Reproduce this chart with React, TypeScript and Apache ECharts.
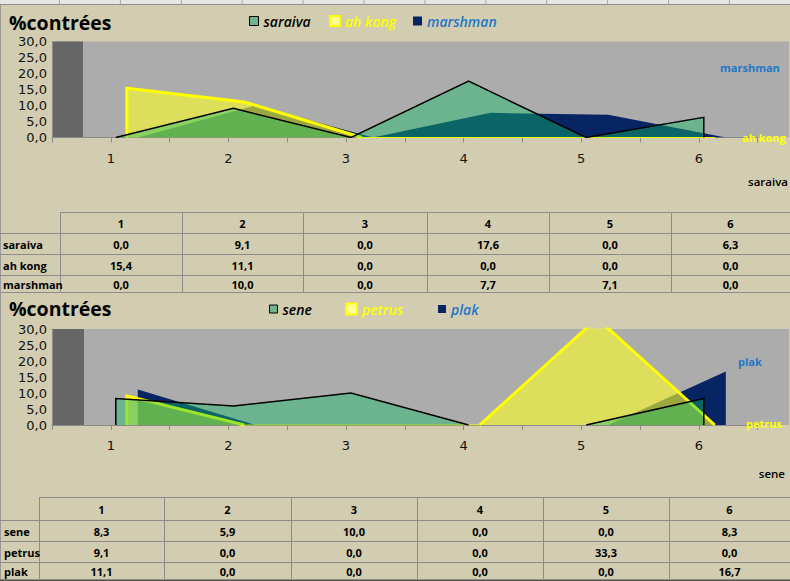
import React, { useEffect, useRef } from 'react';
import * as echarts from 'echarts';

// ---------- data ----------
const categories = [1, 2, 3, 4, 5, 6];
const chartTitle = '%contrées';

const chart1Names = ['saraiva', 'ah kong', 'marshman'];
const saraiva = [0.0, 9.1, 0.0, 17.6, 0.0, 6.3];
const ahKong = [15.4, 11.1, 0.0, 0.0, 0.0, 0.0];
const marshman = [0.0, 10.0, 0.0, 7.7, 7.1, 0.0];

const chart2Names = ['sene', 'petrus', 'plak'];
const sene = [8.3, 5.9, 10.0, 0.0, 0.0, 8.3];
const petrus = [9.1, 0.0, 0.0, 0.0, 33.3, 0.0];
const plak = [11.1, 0.0, 0.0, 0.0, 0.0, 16.7];

const yMin = 0;
const yMax = 30;
const yStep = 5;
const xMin = 0.5;
const xMax = 6.5;
const xStep = 0.5;

// ---------- styles / layout ----------
const BG = '#D2CDB0';
const PLOT_BG = '#ACACAC';
const WALL = '#666666';
const NAVY = '#072463';
const BLUE_TEXT = '#1F77C8';
const YELLOW = '#FFFF00';
const FONT = "'Open Sans', 'Noto Sans', sans-serif";
const AXIS_FONT = "'DejaVu Sans', sans-serif";

const X0 = 52;
const XW = 705.6;
const PH = 96;
const layerOffsets = [5, 16, 27]; // front, middle, back

const layerStyles = [
  { line: '#000000', lineWidth: 1.5, baseLine: 0, area: 'rgba(16,191,104,0.41)', legendItem: { color: '#6DB48F', borderColor: '#000000', borderWidth: 1 }, text: '#000000', depthSize: 11.5, depthWeight: 600 },
  { line: YELLOW, lineWidth: 3, baseLine: 1, area: 'rgba(255,255,40,0.6)', legendItem: { color: '#FFFF99', borderColor: YELLOW, borderWidth: 2 }, text: YELLOW, depthSize: 11, depthWeight: 'bold' },
  { line: NAVY, lineWidth: 0, baseLine: 0, area: NAVY, legendItem: { color: NAVY, borderColor: NAVY, borderWidth: 0 }, text: BLUE_TEXT, depthSize: 11, depthWeight: 'bold' },
];

const panels = [
  {
    names: chart1Names,
    values: [saraiva, ahKong, marshman],
    plotTop: 41.5,
    wallW: 31,
    titleY: 22,
    legendTop: 14,
    legendLefts: [249, 329, 413],
    iconSizes: [9, 10, 9],
    depthLabels: [{ x: 788, y: 181, align: 'right' }, { x: 742, y: 137, align: 'left' }, { x: 720, y: 67, align: 'left' }],
    table: { cols: [60, 182, 303, 427, 549, 671, 790], rows: [212, 233, 254, 275, 292], labelX: 3 },
  },
  {
    names: chart2Names,
    values: [sene, petrus, plak],
    plotTop: 329,
    wallW: 32,
    titleY: 308.5,
    legendTop: 302,
    legendLefts: [269, 345, 438],
    iconSizes: [8, 11, 8],
    depthLabels: [{ x: 785, y: 473, align: 'right' }, { x: 746, y: 423, align: 'left' }, { x: 738, y: 361, align: 'left' }],
    table: { cols: [39, 164, 291, 417, 543, 669, 790], rows: [497, 520, 541, 562, 580], labelX: 4 },
  },
];

const fmt = (v: number) => v.toFixed(1).replace('.', ',');

// closed outline of an area: baseline at the first category, the values, baseline at the last category
function polygonData(values: number[]) {
  const pts: any[] = [[categories[0], 0]];
  values.forEach((v, i) => pts.push([categories[i], v]));
  pts.push([categories[categories.length - 1], 0]);
  return pts;
}

// same outline, but with segments lying on the baseline left out
function outlineData(values: number[]) {
  const pts = polygonData(values);
  const out: any[] = [pts[0]];
  for (let j = 1; j < pts.length; j++) {
    if (pts[j - 1][1] === 0 && pts[j][1] === 0) out.push([pts[j][0], '-']);
    out.push(pts[j]);
  }
  return out;
}

function gLine(x1: number, y1: number, x2: number, y2: number, stroke: string, lw = 1, z = 1) {
  return { type: 'line', z, silent: true, shape: { x1, y1, x2, y2 }, style: { stroke, lineWidth: lw } };
}
function gRect(x: number, y: number, width: number, height: number, fill: string, z = -1) {
  return { type: 'rect', z, silent: true, shape: { x, y, width, height }, style: { fill } };
}
function gText(x: number, y: number, text: string, opts: any = {}) {
  const align = opts.align || 'left';
  return {
    type: 'text',
    z: opts.z ?? 50,
    silent: true,
    x,
    y,
    style: {
      text,
      fill: opts.fill || '#000',
      fontSize: opts.fontSize || 11,
      fontFamily: opts.fontFamily || FONT,
      fontWeight: opts.fontWeight || 'bold',
      fontStyle: opts.fontStyle || 'normal',
      textAlign: align,
      align,
      textVerticalAlign: 'middle',
      verticalAlign: 'middle',
    },
  };
}

function tableEls(cfg: any, names: string[], rows: number[][], last: boolean) {
  const els: any[] = [];
  const { cols, rows: ry, labelX } = cfg;
  const lc = '#8C8C8C';
  els.push(gLine(cols[0], ry[0] + 0.5, 790, ry[0] + 0.5, lc));
  for (let r = 1; r < ry.length; r++) {
    const isBottom = r === ry.length - 1;
    els.push(gLine(0, ry[r] + 0.5, 790, ry[r] + 0.5, isBottom && last ? '#505050' : lc, isBottom && last ? 2 : 1));
  }
  for (let c = 0; c < cols.length - 1; c++) {
    els.push(gLine(cols[c] + 0.5, ry[0], cols[c] + 0.5, ry[ry.length - 1], lc));
  }
  categories.forEach((cat, i) => {
    els.push(gText((cols[i] + cols[i + 1]) / 2, (ry[0] + ry[1]) / 2 + 0.5, String(cat), { align: 'center', fontSize: 11 }));
  });
  names.forEach((n, r) => {
    const cy = (ry[r + 1] + ry[r + 2]) / 2 + 0.5;
    els.push(gText(labelX, cy, n, { fontSize: 11 }));
    rows[r].forEach((v, i) => {
      els.push(gText((cols[i] + cols[i + 1]) / 2, cy, fmt(v), { align: 'center', fontSize: 11 }));
    });
  });
  return els;
}

function buildOption() {
  const grid: any[] = [];
  const xAxis: any[] = [];
  const yAxis: any[] = [];
  const series: any[] = [];
  const legend: any[] = [];
  const graphic: any[] = [];

  // spreadsheet chrome at top
  graphic.push(gRect(0, 0, 790, 5, '#E6E6E6', -2));
  graphic.push(gLine(0, 4.5, 790, 4.5, '#8E8E8E', 1, -1));
  for (let x = 59.5; x < 790; x += 60.9) graphic.push(gLine(x, 0, x, 4.5, '#A8A8A8', 1, -1));
  graphic.push(gLine(0.5, 5, 0.5, 581, '#9A9A9A', 1, -1));

  panels.forEach((p, pi) => {
    const base = pi * 4;
    grid.push({ left: X0, top: p.plotTop, width: XW, height: PH, outerBoundsMode: 'none', containLabel: false });
    xAxis.push({
      gridIndex: base,
      type: 'value',
      min: xMin,
      max: xMax,
      interval: xStep,
      axisLine: { show: true, lineStyle: { color: '#8A8A8A', width: 1 } },
      axisTick: { show: true, length: 5, lineStyle: { color: '#8A8A8A' } },
      axisLabel: {
        margin: 14,
        color: '#111',
        fontSize: 13,
        fontFamily: AXIS_FONT,
        formatter: (v: number) => (Number.isInteger(v) ? String(v) : ''),
      },
      splitLine: { show: false },
    });
    yAxis.push({
      gridIndex: base,
      type: 'value',
      min: yMin,
      max: yMax,
      interval: yStep,
      axisLine: { show: true, lineStyle: { color: '#8A8A8A' } },
      axisTick: { show: false },
      axisLabel: { margin: 5, color: '#111', fontSize: 13, fontFamily: AXIS_FONT, formatter: (v: number) => fmt(v) },
      splitLine: { show: false },
    });
    layerOffsets.forEach((off) => {
      const gi = grid.length;
      grid.push({ left: X0 + off, top: p.plotTop, width: XW, height: PH, outerBoundsMode: 'none', containLabel: false });
      xAxis.push({ gridIndex: gi, type: 'value', min: xMin, max: xMax, interval: xStep, show: false });
      yAxis.push({ gridIndex: gi, type: 'value', min: yMin, max: yMax, interval: yStep, show: false });
    });

    // series: back to front
    [2, 1, 0].forEach((k) => {
      const st = layerStyles[k];
      series.push({
        type: 'line',
        name: p.names[k],
        xAxisIndex: base + 1 + k,
        yAxisIndex: base + 1 + k,
        data: polygonData(p.values[k]),
        showSymbol: false,
        symbol: 'none',
        silent: true,
        z: 4 - k,
        clip: true,
        lineStyle: { color: st.line, width: st.baseLine, opacity: st.baseLine ? 1 : 0 },
        itemStyle: { color: st.legendItem.color },
        areaStyle: { color: st.area, opacity: 1 },
      });
      if (st.lineWidth > 0) {
        series.push({
          type: 'line',
          name: p.names[k] + ' outline',
          xAxisIndex: base + 1 + k,
          yAxisIndex: base + 1 + k,
          data: outlineData(p.values[k]),
          showSymbol: false,
          symbol: 'none',
          silent: true,
          connectNulls: false,
          z: 4 - k,
          clip: true,
          lineStyle: { color: st.line, width: st.lineWidth, join: 'miter' },
          itemStyle: { color: st.line },
        });
      }
    });

    // legends
    p.names.forEach((n, k) => {
      const st = layerStyles[k];
      legend.push({
        left: p.legendLefts[k],
        top: p.legendTop,
        selectedMode: false,
        itemWidth: p.iconSizes[k],
        itemHeight: p.iconSizes[k],
        padding: 0,
        textStyle: { fontFamily: FONT, fontStyle: 'italic', fontWeight: 600, fontSize: 14, color: st.text },
        data: [{ name: n, icon: 'rect', itemStyle: st.legendItem, textStyle: { color: st.text } }],
      });
    });

    // plot background + wall
    graphic.push(gRect(X0, p.plotTop, 790 - X0 - 1, PH, PLOT_BG, -1));
    graphic.push(gRect(X0, p.plotTop, p.wallW, PH, WALL, -1));

    // title
    graphic.push(gText(9, p.titleY, chartTitle, { fontSize: 19.5, fontWeight: 'bold', fill: '#000' }));

    // depth (series) axis labels
    p.names.forEach((n, k) => {
      const d = p.depthLabels[k];
      const st = layerStyles[k];
      graphic.push(gText(d.x, d.y, n, { fontSize: st.depthSize, fontWeight: st.depthWeight, fill: st.text, align: d.align }));
    });

    // table
    tableEls(p.table, p.names, p.values, pi === panels.length - 1).forEach((e) => graphic.push(e));
  });

  return {
    animation: false,
    backgroundColor: BG,
    grid,
    xAxis,
    yAxis,
    series,
    legend,
    graphic: { elements: graphic },
  };
}

export default function App() {
  const ref = useRef<HTMLDivElement>(null);
  useEffect(() => {
    if (!ref.current) return;
    const chart = echarts.init(ref.current, null, { renderer: 'svg' });
    chart.setOption(buildOption() as any);
    return () => chart.dispose();
  }, []);
  return <div ref={ref} style={{ position: 'fixed', left: 0, top: 0, width: 790, height: 581 }} />;
}
